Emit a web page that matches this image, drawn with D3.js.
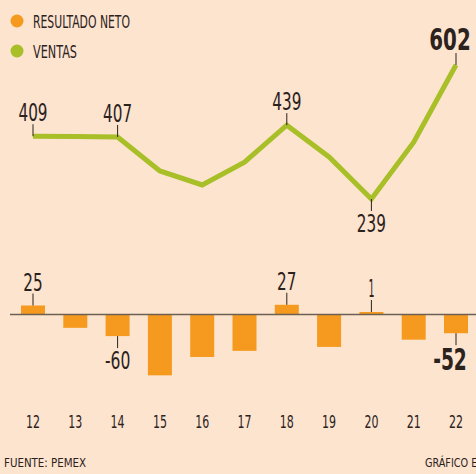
<!DOCTYPE html>
<html><head><meta charset="utf-8">
<script src="https://cdn.jsdelivr.net/npm/d3@7"></script>
<style>
html,body{margin:0;padding:0;background:#fde4ce;}
svg{display:block;}
text{font-family:"DejaVu Sans Condensed","Liberation Sans Narrow",sans-serif;fill:#2b221d;}
</style></head>
<body>
<script>
const years = ["12","13","14","15","16","17","18","19","20","21","22"];
const ventas = [409, 408, 407, 315, 277, 339, 439, 353, 239, 393, 602];
const resultado = [25, -37, -60, -169, -118, -101, 27, -90, 1, -70, -52];
const ventasLabels = [
  {i:0, text:"409", pos:"above", bold:false},
  {i:2, text:"407", pos:"above", bold:false},
  {i:6, text:"439", pos:"above", bold:false},
  {i:8, text:"239", pos:"below", bold:false},
  {i:10, text:"602", pos:"above", bold:true}
];
const resLabels = [
  {i:0, text:"25", pos:"above", bold:false},
  {i:2, text:"-60", pos:"below", bold:false},
  {i:6, text:"27", pos:"above", bold:false},
  {i:8, text:"1", pos:"above", bold:false},
  {i:10, text:"-52", pos:"below", bold:true}
];
const legendItems = [
  {name:"RESULTADO NETO", color:"#f59a1e"},
  {name:"VENTAS", color:"#a8bf28"}
];
const source = "FUENTE: PEMEX";
const credit = "GRÁFICO EL ECONOMISTA";

const W = 476, H = 474;
const orange = "#f59a1e", green = "#a8bf28";
const svg = d3.select("body").append("svg").attr("width", W).attr("height", H);
svg.append("rect").attr("width", W).attr("height", H).attr("fill", "#fde4ce");

const x = d3.scalePoint().domain(years).range([33, 456]);
const yLine = d3.scaleLinear().domain([239, 602]).range([199, 65]);
const yBar = d3.scaleLinear().domain([0, -100]).range([314.5, 350.5]);

// Legend
const lg = svg.append("g");
legendItems.forEach((d, k) => {
  const cy = 21 + k * 30;
  lg.append("circle").attr("cx", 17).attr("cy", cy).attr("r", 6.5).attr("fill", d.color);
  lg.append("text").attr("x", 33).attr("y", cy + 6.5).attr("font-size", 17)
    .attr("textLength", k === 0 ? 97 : 44).attr("lengthAdjust", "spacingAndGlyphs").text(d.name);
});

// Bars
const bw = 24;
svg.append("g").selectAll("rect").data(resultado).join("rect")
  .attr("x", (d, i) => x(years[i]) - bw / 2)
  .attr("width", bw)
  .attr("y", d => d >= 0 ? yBar(0) - Math.max(yBar(0) - yBar(d), 2.5) : yBar(0))
  .attr("height", d => d >= 0 ? Math.max(yBar(0) - yBar(d), 2.5) : yBar(d) - yBar(0))
  .attr("fill", orange);

// Zero line
svg.append("line").attr("x1", 10).attr("x2", W).attr("y1", yBar(0)).attr("y2", yBar(0))
  .attr("stroke", "#6e5f55").attr("stroke-width", 1.5);

// Line
const line = d3.line().x((d, i) => x(years[i])).y(d => yLine(d));
svg.append("path").datum(ventas).attr("d", line).attr("fill", "none")
  .attr("stroke", green).attr("stroke-width", 5).attr("stroke-linejoin", "miter");

function textLen(t, bold) {
  let w = 0;
  for (const c of t) w += (c === "-" ? 6 : c === "1" ? 6 : (bold ? 13.8 : 9.7));
  return w;
}

function addLabels(labels, vals, yfun) {
  const g = svg.append("g");
  labels.forEach(l => {
    const px = x(years[l.i]);
    const py = yfun(vals[l.i]);
    const top = l.pos === "above";
    const tickEnd = top ? py - 12 : py + 12;
    g.append("line").attr("x1", px).attr("x2", px).attr("y1", py).attr("y2", tickEnd)
      .attr("stroke", "#2b221d").attr("stroke-width", 1);
    g.append("text").attr("x", px + (l.i === 10 ? -6 : 0))
      .attr("y", top ? tickEnd - 3 : tickEnd + (l.bold ? 25 : 21))
      .attr("text-anchor", "middle")
      .attr("font-size", l.bold ? 30 : 24)
      .attr("font-weight", l.bold ? "bold" : "normal")
      .attr("textLength", textLen(l.text, l.bold))
      .attr("lengthAdjust", "spacingAndGlyphs")
      .text(l.text);
  });
}
addLabels(ventasLabels, ventas, yLine);
addLabels(resLabels, resultado, v => v >= 0 ? yBar(0) - Math.max(yBar(0) - yBar(v), 2.5) : yBar(v));

// X axis labels
svg.append("g").selectAll("text").data(years).join("text")
  .attr("x", d => x(d)).attr("y", 428).attr("text-anchor", "middle")
  .attr("font-size", 18).attr("textLength", 14).attr("lengthAdjust", "spacingAndGlyphs")
  .text(d => d);

svg.append("text").attr("x", 4).attr("y", 467).attr("font-size", 13)
  .attr("textLength", 82).attr("lengthAdjust", "spacingAndGlyphs").text(source);
svg.append("text").attr("x", 425).attr("y", 467).attr("font-size", 13)
  .attr("textLength", 125).attr("lengthAdjust", "spacingAndGlyphs").text(credit);
</script>
</body></html>
